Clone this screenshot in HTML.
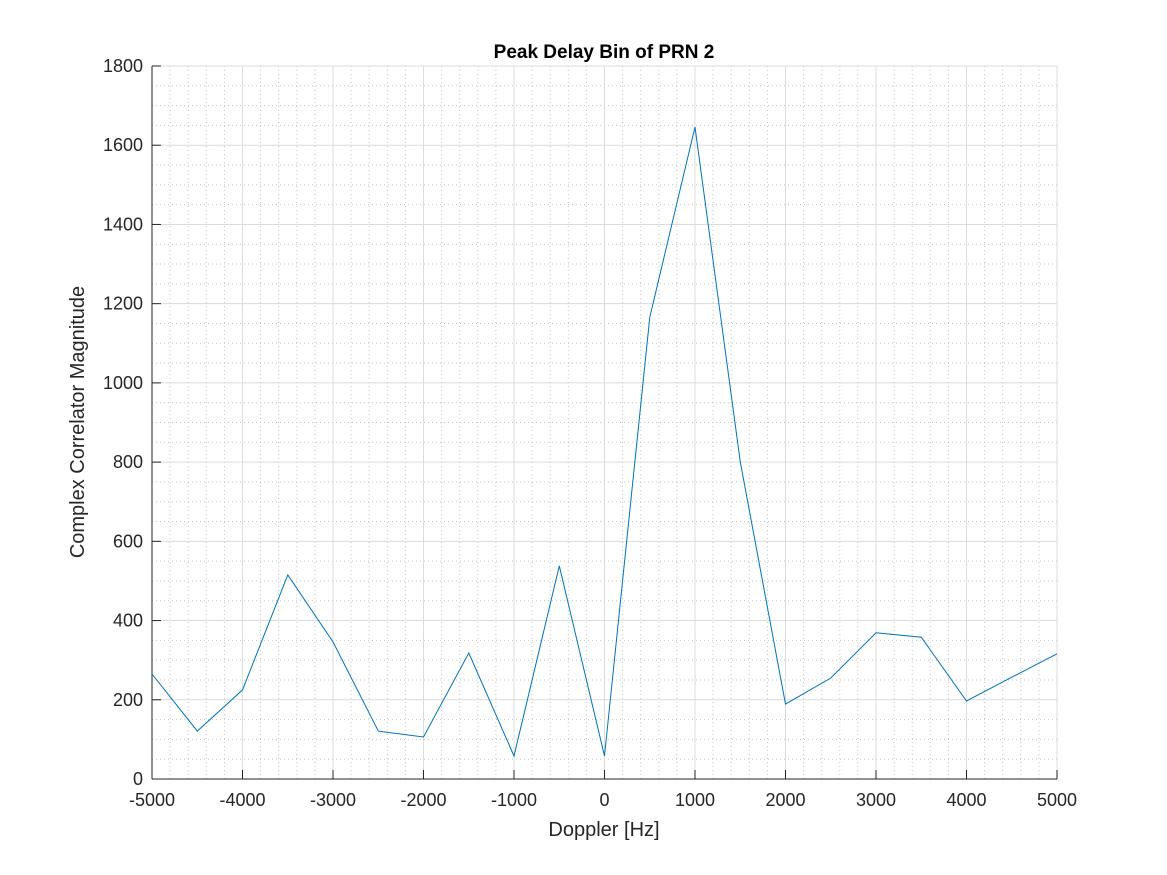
<!DOCTYPE html>
<html><head><meta charset="utf-8"><style>body{margin:0;background:#fff}svg{display:block;font-family:"Liberation Sans",sans-serif}</style></head>
<body>
<svg id="chart" width="1167" height="875" xmlns="http://www.w3.org/2000/svg">
<rect width="1167" height="875" fill="#fff"/>
<g id="grid"></g>
<g id="axes"></g>
<path id="line" fill="none" stroke="#0072bd" stroke-width="1"/>
<text x="604" y="58" text-anchor="middle" font-size="19" font-weight="bold">Peak Delay Bin of PRN 2</text>
<text x="604" y="836" text-anchor="middle" font-size="20" fill="#262626">Doppler [Hz]</text>
<text transform="translate(84,422) rotate(-90)" text-anchor="middle" font-size="20" fill="#262626">Complex Correlator Magnitude</text>
</svg>
<script>
const doppler=[-5000,-4500,-4000,-3500,-3000,-2500,-2000,-1500,-1000,-500,0,500,1000,1500,2000,2500,3000,3500,4000,4500,5000];
const magnitude=[265,121,225,515,346,121,106,318,58,538,58,1166,1646,800,189,255,369,358,197,257,316];
const xTicks=[-5000,-4000,-3000,-2000,-1000,0,1000,2000,3000,4000,5000];
const yTicks=[0,200,400,600,800,1000,1200,1400,1600,1800];
const L=152,R=1057,T=66,B=779;
const xs=v=>L+(v+5000)/10000*(R-L);
const ys=v=>B-v/1800*(B-T);
const NS="http://www.w3.org/2000/svg";
function mk(p,tag,a){const e=document.createElementNS(NS,tag);for(const k in a)e.setAttribute(k,a[k]);p.appendChild(e);return e;}
const g=document.getElementById('grid'),ax=document.getElementById('axes');
for(let v=-5000;v<=5000;v+=200){if(v%1000===0)continue;const l=mk(g,'line',{x1:xs(v),x2:xs(v),y1:T,y2:B,stroke:'#c4c4c4','stroke-width':1,'stroke-dasharray':'1,3'});}
for(let v=50;v<1800;v+=50){if(v%200===0)continue;const l=mk(g,'line',{x1:L,x2:R,y1:ys(v),y2:ys(v),stroke:'#c4c4c4','stroke-width':1,'stroke-dasharray':'1,3'});}
xTicks.forEach(v=>{const l=mk(g,'line',{x1:xs(v),x2:xs(v),y1:T,y2:B,stroke:'#dcdcdc'});
const t=mk(ax,'line',{x1:xs(v),x2:xs(v),y1:B,y2:B-9,stroke:'#262626'});
const s=mk(ax,'text',{x:xs(v),y:B+27,'text-anchor':'middle','font-size':18,fill:'#262626'});s.textContent=v;});
yTicks.forEach(v=>{const l=mk(g,'line',{x1:L,x2:R,y1:ys(v),y2:ys(v),stroke:'#dcdcdc'});
const t=mk(ax,'line',{x1:L,x2:L+9,y1:ys(v),y2:ys(v),stroke:'#262626'});
const s=mk(ax,'text',{x:L-9,y:ys(v)+6,'text-anchor':'end','font-size':18,fill:'#262626'});s.textContent=v;});
const xa=mk(ax,'line',{x1:L,x2:R,y1:B,y2:B,stroke:'#262626'});
const ya=mk(ax,'line',{x1:L,x2:L,y1:T,y2:B,stroke:'#262626'});
document.getElementById('line').setAttribute('d',doppler.map((d,i)=>(i?'L':'M')+xs(d).toFixed(1)+','+ys(magnitude[i]).toFixed(1)).join(''));
</script>
</body></html>
